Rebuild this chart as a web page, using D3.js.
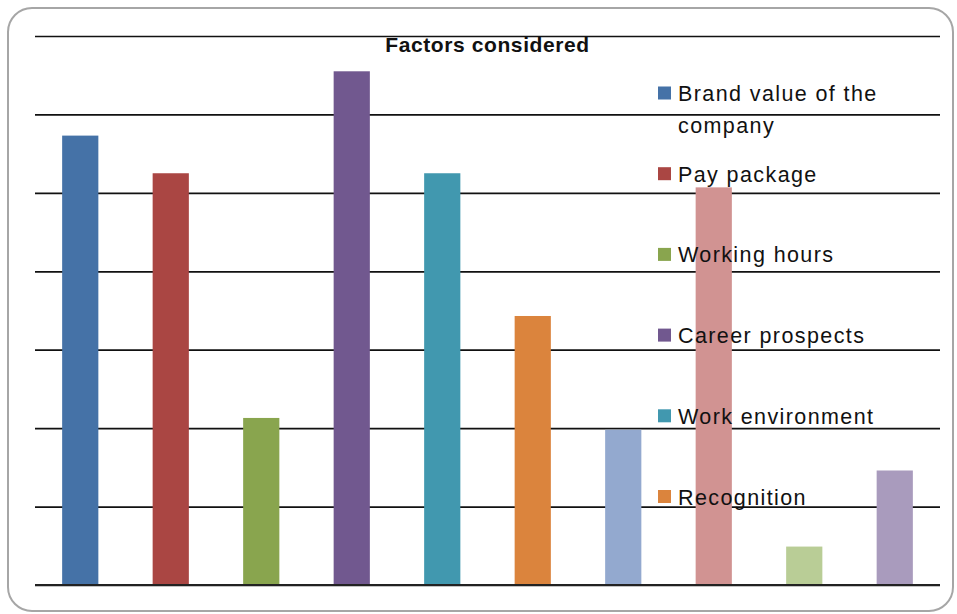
<!DOCTYPE html>
<html>
<head>
<meta charset="utf-8">
<script src="https://cdn.jsdelivr.net/npm/d3@7"></script>
<style>
    body { margin: 0; background: #fff; }
    text { font-family: "Liberation Sans", Arial, sans-serif; }
</style>
</head>
<body>
<svg id="bar-chart"></svg>
<script>
/*--------------------------------------------------------------------------------
----- BAR CHART (factors considered)
--------------------------------------------------------------------------------*/

// Chart data (bar heights are in gridline units)
const bar_values = [5.73, 5.25, 2.13, 6.55, 5.25, 3.43, 1.98, 5.07, 0.49, 1.46];
const bar_colors = ["#4572A7", "#AA4643", "#89A54E", "#71588F", "#4198AF",
                    "#DB843D", "#93A9CF", "#D19392", "#B9CD96", "#A99BBD"];
const legend_labels = ["Brand value of the\ncompany", "Pay package", "Working hours",
                       "Career prospects", "Work environment", "Recognition"];
const grid_ticks = [0, 1, 2, 3, 4, 5, 6, 7];
const chart_title = "Factors considered";

// Configure the dimensions of the chart
const chart_width = 957, chart_height = 614;
const chart_margins = { top: 36, right: 17, bottom: 29, left: 35 };
const plot_width = chart_width - chart_margins.left - chart_margins.right;
const plot_height = chart_height - chart_margins.top - chart_margins.bottom;

// Create the scales for the X-axis and Y-axis
const bar_x_scale = d3.scaleBand()
    .domain(d3.range(bar_values.length))
    .range([0, plot_width])
    .paddingInner(0.6)
    .paddingOuter(0.3);
const bar_y_scale = d3.scaleLinear()
    .domain([0, 7])
    .range([plot_height, 0]);

// Create the chart container
const svg = d3.select("#bar-chart")
    .attr("width", chart_width)
    .attr("height", chart_height);

// Draw the rounded chart border
svg.append("rect")
    .attr("x", 8)
    .attr("y", 8)
    .attr("width", 945)
    .attr("height", 603)
    .attr("rx", 24)
    .attr("fill", "#fff")
    .attr("stroke", "#a6a6a6")
    .attr("stroke-width", 2);

const plot = svg.append("g")
    .attr("transform", `translate(${chart_margins.left},${chart_margins.top})`);

// Add the horizontal gridlines (axis without labels)
plot.append("g")
    .attr("class", "grid")
    .call(d3.axisLeft(bar_y_scale)
        .tickValues(grid_ticks)
        .tickSize(-plot_width)
        .tickFormat(""))
    .call(g => g.select(".domain").remove())
    .call(g => g.selectAll("line")
        .attr("stroke", "#111")
        .attr("stroke-width", 1.7));

// Draw the bars
plot.selectAll("rect.bar")
    .data(bar_values)
    .enter()
    .append("rect")
    .attr("class", "bar")
    .attr("x", (d, i) => bar_x_scale(i))
    .attr("y", d => bar_y_scale(d))
    .attr("width", bar_x_scale.bandwidth())
    .attr("height", d => plot_height - bar_y_scale(d))
    .attr("fill", (d, i) => bar_colors[i]);

// Redraw the baseline on top of the bars
plot.append("line")
    .attr("x1", 0)
    .attr("x2", plot_width)
    .attr("y1", bar_y_scale(0))
    .attr("y2", bar_y_scale(0))
    .attr("stroke", "#222")
    .attr("stroke-width", 2);

// Add the chart title
svg.append("text")
    .attr("x", chart_margins.left + plot_width / 2)
    .attr("y", 52)
    .attr("text-anchor", "middle")
    .attr("font-size", 21)
    .attr("font-weight", "bold")
    .attr("letter-spacing", 0.6)
    .attr("fill", "#111")
    .text(chart_title);

// Add the legend (only the first entries fit in the picture)
const legend_y_scale = d3.scalePoint()
    .domain(d3.range(legend_labels.length))
    .range([93, 496.5]);

const legend_items = svg.selectAll("g.legend")
    .data(legend_labels)
    .enter()
    .append("g")
    .attr("class", "legend")
    .attr("transform", (d, i) => `translate(658,${legend_y_scale(i)})`);

legend_items.append("rect")
    .attr("x", 0)
    .attr("y", -6.5)
    .attr("width", 13)
    .attr("height", 13)
    .attr("fill", (d, i) => bar_colors[i]);

legend_items.append("text")
    .attr("font-size", 21.5)
    .attr("letter-spacing", 1.4)
    .attr("fill", "#111")
    .selectAll("tspan")
    .data(d => d.split("\n"))
    .enter()
    .append("tspan")
    .attr("x", 20)
    .attr("y", (d, j) => 8 + j * 32)
    .text(d => d);
</script>
</body>
</html>
